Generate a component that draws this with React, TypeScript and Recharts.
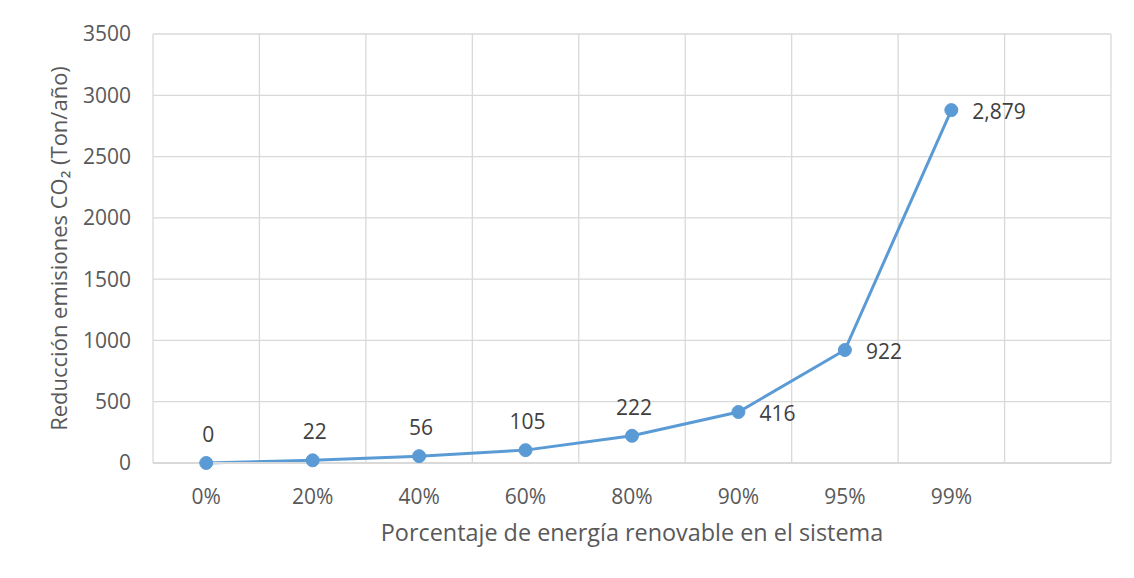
import { LineChart, Line, XAxis, YAxis, CartesianGrid, LabelList, Label } from 'recharts';

const categories = ['0%', '20%', '40%', '60%', '80%', '90%', '95%', '99%'];
const reduction = [0, 22, 56, 105, 222, 416, 922, 2879];
const yTicks = [0, 500, 1000, 1500, 2000, 2500, 3000, 3500];
// Excel leaves one empty category slot after the last point
const slotCount = 9;
// from this point on the data labels sit to the right of the marker
const labelsRightFrom = 5;

const data = categories.map((name, i) => ({ name, pos: i + 0.5, value: reduction[i] }));
const xTicks = data.map((d) => d.pos);

const font = '"Open Sans", "Noto Sans", sans-serif';
const blue = '#5B9BD5';
const grid = '#d9d9d9';

function PointLabel(props: any) {
  const { x, y, value, index } = props;
  const text = Number(value).toLocaleString('en-US');
  if (index >= labelsRightFrom) {
    return (
      <text x={x + 21} y={y + 1} dominantBaseline="central" fontSize={21} fill="#404040" fontFamily={font}>
        {text}
      </text>
    );
  }
  return (
    <text x={x + 2} y={y - 29} textAnchor="middle" dominantBaseline="central" fontSize={21} fill="#404040" fontFamily={font}>
      {text}
    </text>
  );
}

function YTitle({ viewBox }: any) {
  const cx = viewBox.x + 58;
  const cy = viewBox.y + viewBox.height / 2;
  return (
    <text
      x={cx}
      y={cy}
      transform={`rotate(-90, ${cx}, ${cy})`}
      textAnchor="middle"
      dominantBaseline="central"
      fontSize={22}
      fill="#595959"
      fontFamily={font}
    >
      Reducción emisiones CO₂ (Ton/año)
    </text>
  );
}

function XTitle({ viewBox }: any) {
  const cx = viewBox.x + viewBox.width / 2;
  return (
    <text x={cx} y={viewBox.y + 69} textAnchor="middle" dominantBaseline="central" fontSize={23.4} fill="#595959" fontFamily={font}>
      Porcentaje de energía renovable en el sistema
    </text>
  );
}

export default function App() {
  return (
    <div style={{ position: 'relative', margin: -8, width: 1134, height: 578, overflow: 'hidden', background: '#fff' }}>
      <div
        style={{
          position: 'absolute',
          left: 6,
          top: 3,
          width: 1200,
          height: 700,
          borderTop: `2px solid ${grid}`,
          borderLeft: `2px solid ${grid}`,
        }}
      />
      <div style={{ position: 'absolute', left: 0, top: 0 }}>
        <LineChart width={1134} height={578} data={data} margin={{ top: 34, right: 23, bottom: 0, left: 0 }}>
          <CartesianGrid
            stroke={grid}
            strokeWidth={1.3}
            verticalCoordinatesGenerator={({ offset }: any) =>
              Array.from({ length: slotCount + 1 }, (_, i) => offset.left + (offset.width * i) / slotCount)
            }
          />
          <XAxis
            type="number"
            dataKey="pos"
            domain={[0, slotCount]}
            ticks={xTicks}
            tickFormatter={(v: number) => categories[Math.round(v - 0.5)]}
            height={115}
            tickLine={false}
            tickSize={0}
            tickMargin={26}
            axisLine={{ stroke: grid, strokeWidth: 2 }}
            tick={{ fontSize: 21, fill: '#595959', fontFamily: font }}
          >
            <Label content={<XTitle />} />
          </XAxis>
          <YAxis
            domain={[0, 3500]}
            ticks={yTicks}
            width={153}
            tickLine={false}
            tickSize={0}
            tickMargin={22}
            axisLine={false}
            tick={{ fontSize: 21, fill: '#595959', fontFamily: font }}
          >
            <Label content={<YTitle />} />
          </YAxis>
          <Line
            type="linear"
            dataKey="value"
            stroke={blue}
            strokeWidth={3}
            dot={{ r: 6.5, fill: blue, stroke: blue, strokeWidth: 1 }}
            activeDot={false}
            isAnimationActive={false}
          >
            <LabelList dataKey="value" content={<PointLabel />} />
          </Line>
        </LineChart>
      </div>
    </div>
  );
}
